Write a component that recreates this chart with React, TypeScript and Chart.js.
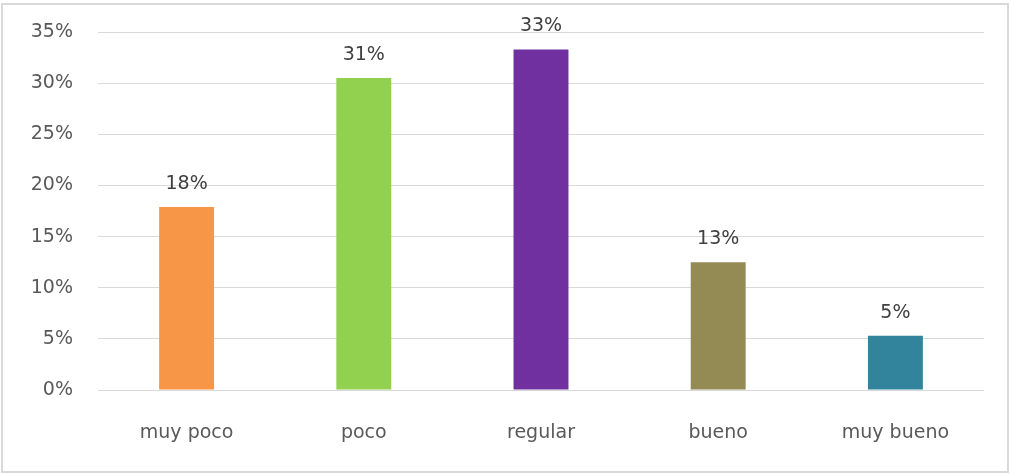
import React, { useEffect, useRef } from "react";
import { Chart, registerables } from "chart.js";

Chart.register(...registerables);

const categories = ["muy poco", "poco", "regular", "bueno", "muy bueno"];
const values = [17.9, 30.5, 33.3, 12.5, 5.3];
const valueLabels = ["18%", "31%", "33%", "13%", "5%"];
const barColors = ["#F79646", "#92D050", "#7030A0", "#948A54", "#31849B"];
const yMin = 0;
const yMax = 35;
const yStep = 5;

const FONT = "'DejaVu Sans', sans-serif";

const framePlugin = {
  id: "frame",
  beforeDraw(chart: any) {
    const ctx = chart.ctx;
    ctx.save();
    ctx.fillStyle = "#ffffff";
    ctx.fillRect(0, 0, chart.width, chart.height);
    ctx.strokeStyle = "#d9d9d9";
    ctx.lineWidth = 2;
    ctx.strokeRect(2, 4, 1006, 468);
    ctx.restore();
  },
};

const valueLabelPlugin = {
  id: "valueLabels",
  afterDatasetsDraw(chart: any) {
    const ctx = chart.ctx;
    const meta = chart.getDatasetMeta(0);
    ctx.save();
    ctx.font = `19px ${FONT}`;
    ctx.fillStyle = "#404040";
    ctx.textAlign = "center";
    ctx.textBaseline = "alphabetic";
    meta.data.forEach((bar: any, i: number) => {
      ctx.fillText(valueLabels[i], bar.x, bar.y - 18);
    });
    ctx.restore();
  },
};

export default function App() {
  const canvasRef = useRef<HTMLCanvasElement | null>(null);

  useEffect(() => {
    if (!canvasRef.current) return;
    const chart = new Chart(canvasRef.current, {
      type: "bar",
      data: {
        labels: categories,
        datasets: [
          {
            data: values,
            backgroundColor: barColors,
            borderWidth: 0,
            barPercentage: 0.31,
            categoryPercentage: 1,
          },
        ],
      },
      options: {
        animation: false,
        responsive: false,
        maintainAspectRatio: false,
        layout: { padding: { left: 0, top: 32, right: 27, bottom: 0 } },
        plugins: {
          legend: { display: false },
          tooltip: { enabled: false },
          title: { display: false },
        },
        scales: {
          x: {
            grid: { display: false, drawTicks: false },
            border: { display: false },
            ticks: {
              color: "#595959",
              font: { family: FONT, size: 19 },
              padding: 32,
              maxRotation: 0,
              autoSkip: false,
            },
            afterFit(scale: any) {
              scale.height = 84;
            },
          },
          y: {
            min: yMin,
            max: yMax,
            grid: { color: "#d9d9d9", lineWidth: 1, drawTicks: false },
            border: { display: false },
            ticks: {
              stepSize: yStep,
              color: "#595959",
              font: { family: FONT, size: 19, lineHeight: 0.6 },
              padding: 25,
              callback: (v: any) => `${v}%`,
            },
            afterFit(scale: any) {
              scale.width = 98;
            },
          },
        },
      },
      plugins: [framePlugin, valueLabelPlugin],
    });
    return () => chart.destroy();
  }, []);

  return (
    <div style={{ position: "absolute", left: 0, top: 0, width: 1011, height: 474 }}>
      <canvas ref={canvasRef} width={1011} height={474} style={{ width: 1011, height: 474 }} />
    </div>
  );
}
